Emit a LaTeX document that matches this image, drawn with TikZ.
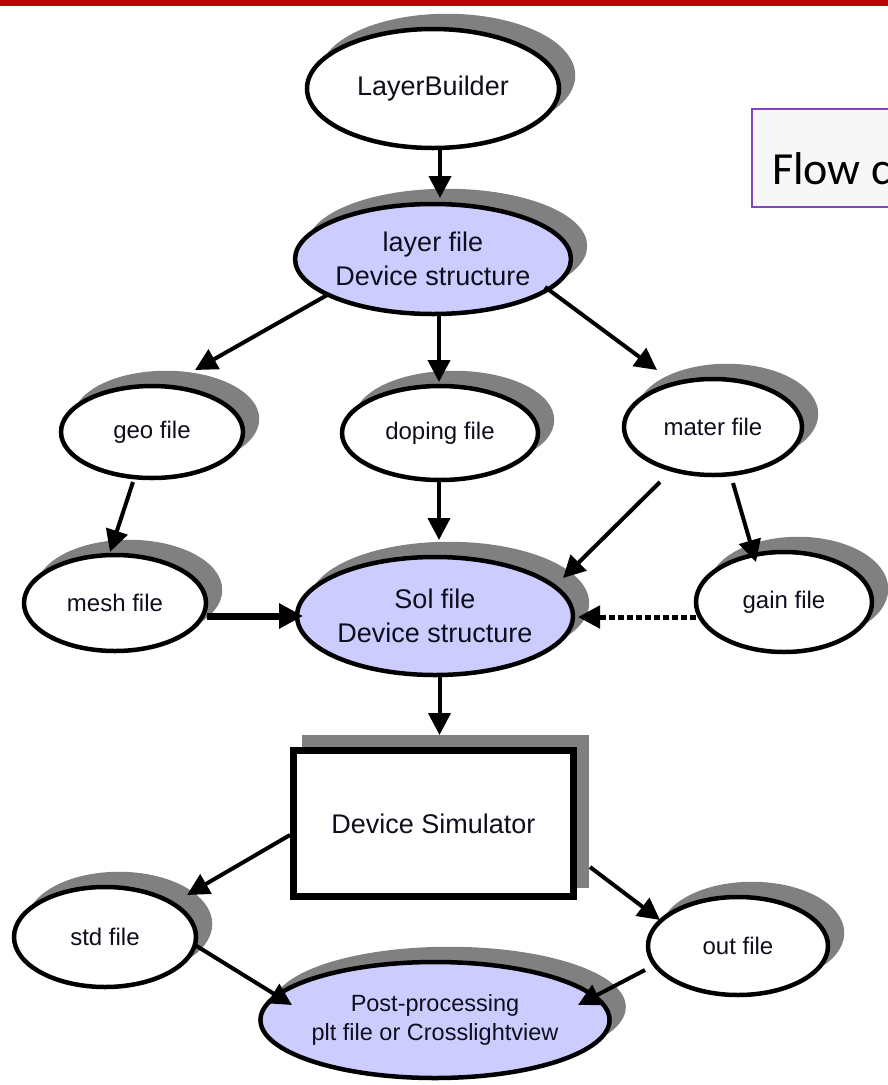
\documentclass[tikz,border=0pt]{standalone}
\usepackage{fontspec}
\setmainfont{Liberation Sans}
\newfontfamily\flowfont{Carlito}
\usetikzlibrary{shapes.geometric,arrows.meta,shadows,calc}
\definecolor{redbar}{HTML}{C00000}
\definecolor{shadowgray}{HTML}{808080}
\definecolor{bluefill}{HTML}{CCCCFF}
\definecolor{flowborder}{RGB}{128,70,190}
\definecolor{flowfill}{HTML}{F7F7F7}
\definecolor{txt}{HTML}{0E0E1C}
\newcommand\fbig{\fontsize{27}{34}\selectfont}
\newcommand\fsmall{\fontsize{24}{28}\selectfont}
\newcommand\fpost{\fontsize{23.5}{29}\selectfont}
\tikzset{
  sh/.style={general shadow={fill=shadowgray, draw=shadowgray, line width=4.5pt,
      shadow xshift=14pt, shadow yshift=13pt}},
  ell/.style={ellipse, draw=black, line width=4.5pt, fill=white, inner sep=0pt,
      align=center, text=txt, sh},
  blueell/.style={ell, fill=bluefill},
  simbox/.style={rectangle, draw=black, line width=7pt, fill=white, inner sep=0pt,
      minimum width=280pt, minimum height=146pt, text=txt,
      general shadow={fill=shadowgray, draw=shadowgray, line width=7pt,
      shadow xshift=12pt, shadow yshift=12pt}},
  arr/.style={line width=4pt, -{Triangle[length=22pt,width=22pt]}},
  thickarr/.style={line width=7pt, -{Triangle[length=24pt,width=24pt]}},
  dotarr/.style={line width=5pt, dash pattern=on 6pt off 3pt,
      -{Triangle[length=22pt,width=22pt]}},
}
\begin{document}
\begin{tikzpicture}[x=1pt,y=-1pt]
\useasboundingbox (0,0) rectangle (888,1085);
% top red bar
\fill[redbar] (0,0) rectangle (888,6);
% flow box (cut at right edge)
\draw[draw=flowborder, fill=flowfill, line width=2pt] (752,109) rectangle (960,207);
\node[anchor=base west, inner sep=0pt, font=\flowfont\fontsize{46}{50}\selectfont, text=black] (flow) at (772,184) {Flow chart};

% nodes
\node[ell, minimum width=252pt, minimum height=119pt, font=\fbig] (lb) at (433,88.5) {LayerBuilder};
\node[blueell, minimum width=256pt, minimum height=110pt, font=\fbig] (lf) at (433,259) {layer file\\Device structure};
\node[ell, minimum width=182pt, minimum height=92pt, font=\fsmall] (geo) at (152,432) {geo file};
\node[ell, minimum width=196pt, minimum height=94pt, font=\fsmall] (dop) at (440,433) {doping file};
\node[ell, minimum width=178pt, minimum height=96pt, font=\fsmall] (mat) at (713,427) {mater file};
\node[ell, minimum width=182pt, minimum height=96pt, font=\fsmall] (mesh) at (115,603) {mesh file};
\node[blueell, minimum width=258pt, minimum height=118pt, font=\fbig] (sol) at (435,616) {Sol file\\Device structure};
\node[ell, minimum width=176pt, minimum height=100pt, font=\fsmall] (gain) at (784,602) {gain file};
\node[simbox, font=\fbig] (sim) at (433.5,823.5) {Device Simulator};
\node[ell, minimum width=182pt, minimum height=100pt, font=\fsmall] (std) at (105,937) {std file};
\node[ell, minimum width=180pt, minimum height=98pt, font=\fsmall] (out) at (738,946) {out file};
\node[blueell, minimum width=278pt, minimum height=116pt, font=\fpost] (post) at (435,1020) {Post-processing\\plt file or Crosslightview};

% connectors
\draw[arr] ($(lb)+(7,61.5)$) -- ($(lf)+(7,-61)$);
\draw[arr] ($(lf)+(-104,35)$) -- ($(geo)+(43,-62)$);
\draw[arr] ($(lf)+(6,55)$) -- ($(dop)+(-1,-51)$);
\draw[arr] ($(lf)+(112,28)$) -- ($(mat)+(-56,-57)$);
\draw[arr] ($(geo)+(-19,50)$) -- ($(mesh)+(-5,-51)$);
\draw[arr] ($(dop)+(-1,49)$) -- ($(sol)+(4,-76)$);
\draw[arr] ($(mat)+(-53,55)$) -- ($(sol)+(128,-38)$);
\draw[arr] ($(mat)+(20,56)$) -- ($(gain)+(-28,-40)$);
\draw[thickarr] ($(mesh)+(92,13)$) -- ($(sol)+(-132,0)$);
\draw[dotarr] ($(gain)+(-88,15)$) -- ($(sol)+(143,1)$);
\draw[arr] ($(sol)+(4.5,61)$) -- ($(sim)+(6,-88.5)$);
\draw[arr] ($(sim)+(-143.5,11.5)$) -- ($(std)+(82,-42)$);
\draw[arr] ($(sim)+(156.5,43.5)$) -- ($(out)+(-78,-26)$);
\draw[arr] ($(std)+(90,8)$) -- ($(post)+(-143,-15)$);
\draw[arr] ($(out)+(-93,24)$) -- ($(post)+(143,-15)$);
\end{tikzpicture}
\end{document}
